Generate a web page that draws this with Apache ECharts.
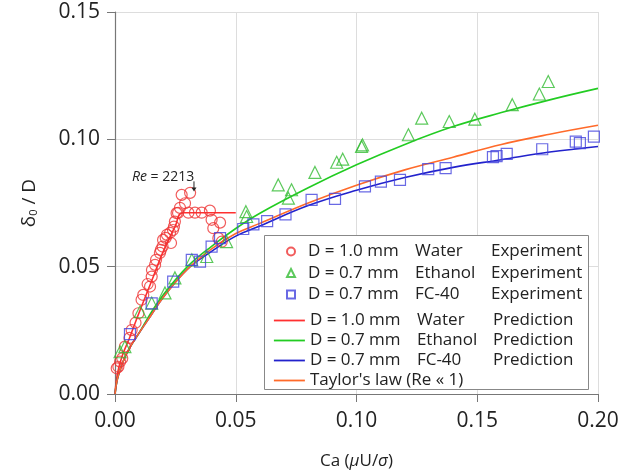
<!DOCTYPE html>
<html>
<head>
<meta charset="utf-8">
<script src="https://cdn.jsdelivr.net/npm/echarts@6/dist/echarts.min.js"></script>
<style>
  html, body { margin: 0; padding: 0; background: #fff; }
  #main { width: 634px; height: 475px; }
</style>
</head>
<body>
<div id="main"></div>
<script>
// experiments, [Ca, delta0/D]
const waterExp = [
  [0.0007, 0.0101], [0.0014, 0.0107], [0.0021, 0.0127], [0.003, 0.014], [0.0041, 0.0186],
  [0.006, 0.022], [0.0069, 0.0251], [0.0085, 0.028], [0.0097, 0.0317], [0.011, 0.037],
  [0.0117, 0.0389], [0.0135, 0.0432], [0.0145, 0.0422], [0.0152, 0.0461], [0.0153, 0.0487],
  [0.0166, 0.0507], [0.017, 0.0527], [0.0186, 0.0554], [0.019, 0.0566], [0.0197, 0.0579],
  [0.0199, 0.0605], [0.021, 0.0613], [0.0215, 0.0625], [0.0228, 0.0633], [0.0232, 0.0593],
  [0.024, 0.0644], [0.0244, 0.0657], [0.0248, 0.0677], [0.0255, 0.071], [0.0261, 0.0711],
  [0.0269, 0.0731], [0.0276, 0.0782], [0.029, 0.0749], [0.0311, 0.079], [0.0304, 0.0712],
  [0.0331, 0.0712], [0.0359, 0.0712], [0.0393, 0.072], [0.04, 0.0684], [0.0435, 0.0673],
  [0.0407, 0.0651], [0.0428, 0.0612], [0.0442, 0.0598]
];
const ethanolExp = [
  [0.0021, 0.0166], [0.0041, 0.0186], [0.0104, 0.0323], [0.0152, 0.0357], [0.0207, 0.0397],
  [0.0248, 0.0456], [0.0318, 0.0527], [0.038, 0.054], [0.0462, 0.0598], [0.0542, 0.0716],
  [0.0545, 0.0697], [0.0676, 0.0821], [0.0731, 0.0802], [0.0718, 0.0769], [0.0828, 0.087],
  [0.0918, 0.091], [0.0943, 0.0922], [0.1021, 0.0972], [0.1025, 0.0978], [0.1215, 0.1018],
  [0.127, 0.1083], [0.1384, 0.107], [0.149, 0.1079], [0.1645, 0.1136], [0.1757, 0.1178],
  [0.1794, 0.1227]
];
const fc40Exp = [
  [0.0062, 0.0235], [0.0152, 0.0356], [0.0241, 0.0441], [0.0318, 0.0527], [0.0352, 0.052],
  [0.04, 0.0579], [0.0435, 0.0612], [0.0531, 0.0648], [0.0573, 0.0666], [0.0630, 0.0679],
  [0.0706, 0.0705], [0.0814, 0.0762], [0.0911, 0.0766], [0.1035, 0.0815], [0.1101, 0.0834],
  [0.118, 0.0841], [0.1297, 0.0883], [0.1369, 0.0887], [0.1565, 0.093], [0.158, 0.0934],
  [0.1622, 0.0943], [0.1769, 0.0961], [0.1908, 0.0991], [0.1925, 0.0985], [0.1983, 0.1011]
];

// predictions
const waterPred = [
  [0, 0], [0.001, 0.008], [0.003, 0.015], [0.006, 0.022], [0.01, 0.032], [0.015, 0.044],
  [0.02, 0.056], [0.025, 0.066], [0.028, 0.0712], [0.05, 0.0712]
];
const ethanolPred = [
  [0, 0], [0.001, 0.006], [0.003, 0.012], [0.006, 0.018], [0.01, 0.024], [0.015, 0.032],
  [0.02, 0.039], [0.03, 0.05], [0.04, 0.058], [0.05, 0.065], [0.06, 0.071], [0.08, 0.081],
  [0.10, 0.090], [0.12, 0.098], [0.14, 0.105], [0.16, 0.1105], [0.18, 0.1155], [0.20, 0.120]
];
const fc40Pred = [
  [0, 0], [0.001, 0.006], [0.003, 0.012], [0.006, 0.018], [0.01, 0.024], [0.015, 0.031],
  [0.02, 0.038], [0.03, 0.049], [0.04, 0.056], [0.05, 0.062], [0.06, 0.066], [0.08, 0.074],
  [0.10, 0.080], [0.12, 0.085], [0.14, 0.089], [0.16, 0.092], [0.18, 0.095], [0.20, 0.0972]
];
const taylorLaw = [
  [0, 0], [0.001, 0.006], [0.003, 0.012], [0.006, 0.018], [0.01, 0.024], [0.015, 0.031],
  [0.02, 0.038], [0.03, 0.049], [0.04, 0.057], [0.05, 0.063], [0.06, 0.067], [0.08, 0.075],
  [0.10, 0.082], [0.12, 0.088], [0.14, 0.093], [0.16, 0.098], [0.18, 0.102], [0.20, 0.1055]
];

const xTicks = [0, 0.05, 0.10, 0.15, 0.20];
const yTicks = [0, 0.05, 0.10, 0.15];

const expNames = ['D = 1.0 mm  Water  Experiment', 'D = 0.7 mm  Ethanol  Experiment', 'D = 0.7 mm  FC-40  Experiment'];
const predNames = ['D = 1.0 mm  Water  Prediction', 'D = 0.7 mm  Ethanol  Prediction', 'D = 0.7 mm  FC-40  Prediction', "Taylor's law (Re « 1)"];

const FONT = '"Open Sans", "DejaVu Sans", sans-serif';

var myChart = echarts.init(document.getElementById('main'));

function legendText(name) {
  if (name.indexOf('Taylor') === 0) return '{t|' + name + '}';
  var p = name.split('  ');
  return '{a|' + p[0] + '}{b|' + p[1] + '}{c|' + p[2] + '}';
}
function expLegendText(name) {
  return '{p|}' + legendText(name);
}
const legendRich = {
  p: { width: 8 },
  a: { width: 107, fontSize: 17, fontFamily: FONT, color: '#222' },
  b: { width: 76, fontSize: 17, fontFamily: FONT, color: '#222' },
  c: { fontSize: 17, fontFamily: FONT, color: '#222' },
  t: { fontSize: 17, fontFamily: FONT, color: '#222' }
};

function scatter(name, data, symbol, color, size) {
  return {
    name: name, type: 'scatter', data: data, symbol: symbol, symbolSize: size,
    itemStyle: { color: 'transparent', borderColor: color, borderWidth: 1.2 },
    z: 3
  };
}
function line(name, data, color) {
  return {
    name: name, type: 'line', data: data, smooth: 0.4, symbol: 'none', showSymbol: false,
    lineStyle: { color: color, width: 1.6 }, itemStyle: { color: color },
    z: 2
  };
}

var option = {
  animation: false,
  grid: { left: 115, right: 36, top: 12, bottom: 81 },
  xAxis: {
    type: 'value', min: 0, max: 0.2, interval: 0.05,
    name: 'Ca ({i|μ}U/{i|σ})', nameLocation: 'middle', nameGap: 59,
    nameTextStyle: {
      fontSize: 17, fontFamily: FONT, color: '#222',
      rich: { i: { fontStyle: 'italic', fontSize: 17, fontFamily: FONT, color: '#222' } }
    },
    axisLine: { lineStyle: { color: '#777', width: 1.2 } },
    axisTick: { show: true, inside: false, length: 8, lineStyle: { color: '#777' } },
    axisLabel: { margin: 17, fontSize: 21, fontFamily: FONT, color: '#222',
      formatter: function (v) { return v.toFixed(2); } },
    splitLine: { show: true, lineStyle: { color: '#ddd', width: 1 } }
  },
  yAxis: {
    type: 'value', min: 0, max: 0.15, interval: 0.05,
    name: '{n|δ}{s|0}{n| / D}', nameLocation: 'middle', nameGap: 76, nameRotate: 90,
    nameTextStyle: {
      fontSize: 19, fontFamily: FONT, color: '#222',
      rich: {
        n: { fontSize: 19, fontFamily: FONT, color: '#222' },
        s: { fontSize: 11, fontFamily: FONT, color: '#222', verticalAlign: 'bottom', padding: [6, 0, 0, 0] }
      }
    },
    axisLine: { show: true, lineStyle: { color: '#777', width: 1.2 } },
    axisTick: { show: true, inside: false, length: 8, lineStyle: { color: '#777' } },
    axisLabel: { margin: 15, fontSize: 21, fontFamily: FONT, color: '#222',
      formatter: function (v) { return v.toFixed(2); } },
    splitLine: { show: true, lineStyle: { color: '#ddd', width: 1 } }
  },
  legend: [
    {
      data: expNames, orient: 'vertical', left: 281, top: 238, itemWidth: 8, itemHeight: 8,
      itemGap: 4.5, formatter: expLegendText,
      textStyle: { lineHeight: 17, rich: legendRich }
    },
    {
      data: predNames, orient: 'vertical', left: 268, top: 307, itemWidth: 31, itemHeight: 9,
      itemGap: 3, formatter: legendText,
      itemStyle: { opacity: 0 },
      lineStyle: { width: 1.8 },
      textStyle: { lineHeight: 17, rich: legendRich }
    }
  ],
  graphic: [
    {
      type: 'rect', left: 264, top: 235, z: 3,
      shape: { width: 324, height: 154 },
      style: { fill: '#fff', stroke: '#888', lineWidth: 1 }
    }
  ],
  series: [
    scatter(expNames[0], waterExp, 'circle', '#ee3333', 11),
    scatter(expNames[1], ethanolExp, 'triangle', '#33bb33', 12),
    scatter(expNames[2], fc40Exp, 'rect', '#4444dd', 11),
    line(predNames[0], waterPred, '#ff3030'),
    line(predNames[1], ethanolPred, '#22cc22'),
    line(predNames[2], fc40Pred, '#2222cc'),
    line(predNames[3], taylorLaw, '#ff6a2a')
  ]
};

myChart.setOption(option);

// Re = 2213 label with a small arrow, placed through the axes
const labelAt = myChart.convertToPixel({ gridIndex: 0 }, [0.0199, 0.0853]);
const arrowTop = myChart.convertToPixel({ gridIndex: 0 }, [0.0327, 0.0835]);
const arrowEnd = myChart.convertToPixel({ gridIndex: 0 }, [0.0327, 0.0795]);
myChart.setOption({
  graphic: [
    {
      type: 'rect', left: 264, top: 235, z: 3,
      shape: { width: 324, height: 154 },
      style: { fill: '#fff', stroke: '#888', lineWidth: 1 }
    },
    {
      type: 'text', x: labelAt[0], y: labelAt[1], z: 5,
      style: {
        text: '{i|Re} = 2213', align: 'center', verticalAlign: 'middle',
        font: '14px ' + FONT, fill: '#222',
        rich: { i: { fontStyle: 'italic', fontSize: 14, fontFamily: FONT, fill: '#222' } }
      }
    },
    {
      type: 'line', z: 5,
      shape: { x1: arrowTop[0], y1: arrowTop[1], x2: arrowEnd[0], y2: arrowEnd[1] - 3 },
      style: { stroke: '#222', lineWidth: 1 }
    },
    {
      type: 'polygon', z: 5,
      shape: { points: [[arrowEnd[0] - 2.5, arrowEnd[1] - 4], [arrowEnd[0] + 2.5, arrowEnd[1] - 4], [arrowEnd[0], arrowEnd[1]]] },
      style: { fill: '#222' }
    }
  ]
});
</script>
</body>
</html>
